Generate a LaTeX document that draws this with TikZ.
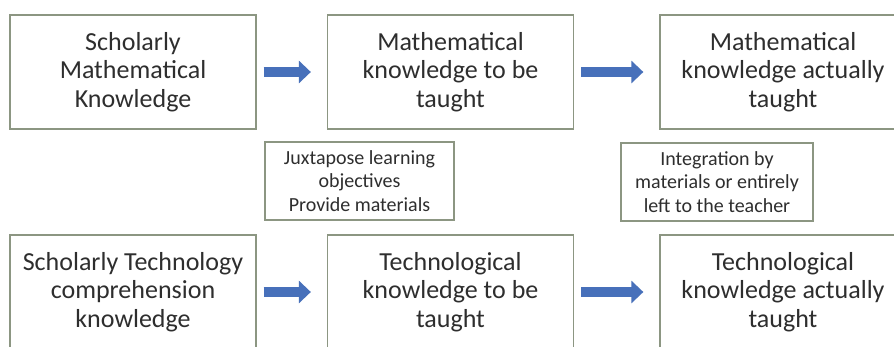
\documentclass[tikz,border=0pt]{standalone}
\usepackage{fontspec}
\setmainfont{Carlito}
\usetikzlibrary{arrows.meta}
\definecolor{frameGray}{HTML}{8C9682}
\definecolor{flowBlue}{HTML}{4770BA}
\definecolor{inkGray}{HTML}{2E2E2E}

\begin{document}
\begin{tikzpicture}[x=1pt, y=-1pt, text=inkGray,
          stage/.style={draw=frameGray, line width=1.3pt, minimum width=246pt, minimum height=114pt,
                        align=center, inner sep=2pt, font=\fontsize{26}{28.5}\selectfont},
          note/.style={draw=frameGray, line width=1.3pt, minimum height=78pt,
                       align=center, inner sep=2pt, font=\fontsize{20}{23.5}\selectfont},
          flow/.style={flowBlue, line width=9.5pt, shorten <=7pt, shorten >=16pt,
                       -{Triangle[length=12pt, width=22pt]}}]
        \clip (0,0) rectangle (894,346);
        \fill[white] (0,0) rectangle (894,346);
        \node[stage] (sm) at (133,72) {Scholarly\\Mathematical\\Knowledge};
        \node[stage] (mt) at (450.5,72) {Mathematical\\knowledge to be\\taught};
        \node[stage] (ma) at (783,72) {Mathematical\\knowledge actually\\taught};
        \node[note, minimum width=189pt] (jx) at (359.5,181) {Juxtapose learning\\objectives\\Provide materials};
        \node[note, minimum width=192pt] (ig) at (717,182) {Integration by\\materials or entirely\\left to the teacher};
        \node[stage] (st) at (133,292) {Scholarly Technology\\comprehension\\knowledge};
        \node[stage] (tt) at (450.5,292) {Technological\\knowledge to be\\taught};
        \node[stage] (ta) at (783,292) {Technological\\knowledge actually\\taught};
        \foreach \a/\b in {sm/mt, mt/ma, st/tt, tt/ta} { \draw[flow] (\a.east) -- (\b.west); }
      \end{tikzpicture}
\end{document}
